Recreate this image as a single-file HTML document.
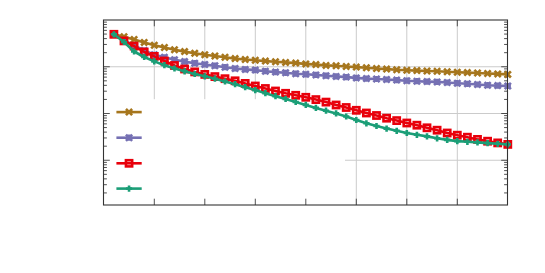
<!DOCTYPE html>
<html><head><meta charset="utf-8"><title>chart</title>
<style>html,body{margin:0;padding:0;background:#fff;font-family:"Liberation Sans",sans-serif;}svg{display:block}</style>
</head><body>
<svg width="545" height="273" viewBox="0 0 545 273">
<rect width="545" height="273" fill="#fff"/>
<line x1="154.3" y1="20.0" x2="154.3" y2="205.0" stroke="#cbcbcb" stroke-width="1"/>
<line x1="204.8" y1="20.0" x2="204.8" y2="205.0" stroke="#cbcbcb" stroke-width="1"/>
<line x1="255.3" y1="20.0" x2="255.3" y2="205.0" stroke="#cbcbcb" stroke-width="1"/>
<line x1="305.8" y1="20.0" x2="305.8" y2="205.0" stroke="#cbcbcb" stroke-width="1"/>
<line x1="356.3" y1="20.0" x2="356.3" y2="205.0" stroke="#cbcbcb" stroke-width="1"/>
<line x1="406.8" y1="20.0" x2="406.8" y2="205.0" stroke="#cbcbcb" stroke-width="1"/>
<line x1="457.3" y1="20.0" x2="457.3" y2="205.0" stroke="#cbcbcb" stroke-width="1"/>
<line x1="103.5" y1="66.75" x2="507.5" y2="66.75" stroke="#cbcbcb" stroke-width="1"/>
<line x1="103.5" y1="113.5" x2="507.5" y2="113.5" stroke="#cbcbcb" stroke-width="1"/>
<line x1="103.5" y1="160.25" x2="507.5" y2="160.25" stroke="#cbcbcb" stroke-width="1"/>
<rect x="104.0" y="99.2" width="241.0" height="105.3" fill="#fff"/>
<path d="M103.5,52.68h3.4M507.5,52.68h-3.4M103.5,44.44h3.4M507.5,44.44h-3.4M103.5,38.60h3.4M507.5,38.60h-3.4M103.5,34.07h3.4M507.5,34.07h-3.4M103.5,30.37h3.4M507.5,30.37h-3.4M103.5,27.24h3.4M507.5,27.24h-3.4M103.5,24.53h3.4M507.5,24.53h-3.4M103.5,22.14h3.4M507.5,22.14h-3.4M103.5,66.75h6.3M507.5,66.75h-6.3M103.5,99.43h3.4M507.5,99.43h-3.4M103.5,91.19h3.4M507.5,91.19h-3.4M103.5,85.35h3.4M507.5,85.35h-3.4M103.5,80.82h3.4M507.5,80.82h-3.4M103.5,77.12h3.4M507.5,77.12h-3.4M103.5,73.99h3.4M507.5,73.99h-3.4M103.5,71.28h3.4M507.5,71.28h-3.4M103.5,68.89h3.4M507.5,68.89h-3.4M103.5,113.5h6.3M507.5,113.5h-6.3M103.5,146.18h3.4M507.5,146.18h-3.4M103.5,137.94h3.4M507.5,137.94h-3.4M103.5,132.10h3.4M507.5,132.10h-3.4M103.5,127.57h3.4M507.5,127.57h-3.4M103.5,123.87h3.4M507.5,123.87h-3.4M103.5,120.74h3.4M507.5,120.74h-3.4M103.5,118.03h3.4M507.5,118.03h-3.4M103.5,115.64h3.4M507.5,115.64h-3.4M103.5,160.25h6.3M507.5,160.25h-6.3M103.5,192.93h3.4M507.5,192.93h-3.4M103.5,184.69h3.4M507.5,184.69h-3.4M103.5,178.85h3.4M507.5,178.85h-3.4M103.5,174.32h3.4M507.5,174.32h-3.4M103.5,170.62h3.4M507.5,170.62h-3.4M103.5,167.49h3.4M507.5,167.49h-3.4M103.5,164.78h3.4M507.5,164.78h-3.4M103.5,162.39h3.4M507.5,162.39h-3.4M154.3,20.0v6.3M154.3,205.0v-6.3M204.8,20.0v6.3M204.8,205.0v-6.3M255.3,20.0v6.3M255.3,205.0v-6.3M305.8,20.0v6.3M305.8,205.0v-6.3M356.3,20.0v6.3M356.3,205.0v-6.3M406.8,20.0v6.3M406.8,205.0v-6.3M457.3,20.0v6.3M457.3,205.0v-6.3" stroke="#333333" stroke-width="0.85" fill="none"/>
<line x1="116.4" y1="112.1" x2="141.7" y2="112.1" stroke="#A6761D" stroke-width="2.6"/>
<path d="M125.95,109.00L132.15,115.20M125.95,115.20L132.15,109.00" stroke="#A6761D" stroke-width="2.6" fill="none"/>
<polyline points="113.90,34.30 124.00,36.70 134.10,39.50 144.20,42.40 154.30,45.20 164.40,47.50 174.50,49.70 184.60,51.60 194.70,53.20 204.80,54.70 214.90,56.00 225.00,57.30 235.10,58.60 245.20,59.50 255.30,60.20 265.40,61.10 275.50,61.80 285.60,62.40 295.70,63.10 305.80,63.90 315.90,64.60 326.00,65.40 336.10,65.80 346.20,66.50 356.30,67.10 366.40,67.80 376.50,68.50 386.60,69.10 396.70,69.80 406.80,70.20 416.90,70.60 427.00,71.00 437.10,71.30 447.20,71.70 457.30,72.20 467.40,72.60 477.50,73.00 487.60,73.50 497.70,73.90 507.80,74.40" fill="none" stroke="#A6761D" stroke-width="2.6" stroke-linejoin="round"/>
<path d="M110.80,31.20L117.00,37.40M110.80,37.40L117.00,31.20" stroke="#A6761D" stroke-width="2.6" fill="none"/>
<path d="M120.90,33.60L127.10,39.80M120.90,39.80L127.10,33.60" stroke="#A6761D" stroke-width="2.6" fill="none"/>
<path d="M131.00,36.40L137.20,42.60M131.00,42.60L137.20,36.40" stroke="#A6761D" stroke-width="2.6" fill="none"/>
<path d="M141.10,39.30L147.30,45.50M141.10,45.50L147.30,39.30" stroke="#A6761D" stroke-width="2.6" fill="none"/>
<path d="M151.20,42.10L157.40,48.30M151.20,48.30L157.40,42.10" stroke="#A6761D" stroke-width="2.6" fill="none"/>
<path d="M161.30,44.40L167.50,50.60M161.30,50.60L167.50,44.40" stroke="#A6761D" stroke-width="2.6" fill="none"/>
<path d="M171.40,46.60L177.60,52.80M171.40,52.80L177.60,46.60" stroke="#A6761D" stroke-width="2.6" fill="none"/>
<path d="M181.50,48.50L187.70,54.70M181.50,54.70L187.70,48.50" stroke="#A6761D" stroke-width="2.6" fill="none"/>
<path d="M191.60,50.10L197.80,56.30M191.60,56.30L197.80,50.10" stroke="#A6761D" stroke-width="2.6" fill="none"/>
<path d="M201.70,51.60L207.90,57.80M201.70,57.80L207.90,51.60" stroke="#A6761D" stroke-width="2.6" fill="none"/>
<path d="M211.80,52.90L218.00,59.10M211.80,59.10L218.00,52.90" stroke="#A6761D" stroke-width="2.6" fill="none"/>
<path d="M221.90,54.20L228.10,60.40M221.90,60.40L228.10,54.20" stroke="#A6761D" stroke-width="2.6" fill="none"/>
<path d="M232.00,55.50L238.20,61.70M232.00,61.70L238.20,55.50" stroke="#A6761D" stroke-width="2.6" fill="none"/>
<path d="M242.10,56.40L248.30,62.60M242.10,62.60L248.30,56.40" stroke="#A6761D" stroke-width="2.6" fill="none"/>
<path d="M252.20,57.10L258.40,63.30M252.20,63.30L258.40,57.10" stroke="#A6761D" stroke-width="2.6" fill="none"/>
<path d="M262.30,58.00L268.50,64.20M262.30,64.20L268.50,58.00" stroke="#A6761D" stroke-width="2.6" fill="none"/>
<path d="M272.40,58.70L278.60,64.90M272.40,64.90L278.60,58.70" stroke="#A6761D" stroke-width="2.6" fill="none"/>
<path d="M282.50,59.30L288.70,65.50M282.50,65.50L288.70,59.30" stroke="#A6761D" stroke-width="2.6" fill="none"/>
<path d="M292.60,60.00L298.80,66.20M292.60,66.20L298.80,60.00" stroke="#A6761D" stroke-width="2.6" fill="none"/>
<path d="M302.70,60.80L308.90,67.00M302.70,67.00L308.90,60.80" stroke="#A6761D" stroke-width="2.6" fill="none"/>
<path d="M312.80,61.50L319.00,67.70M312.80,67.70L319.00,61.50" stroke="#A6761D" stroke-width="2.6" fill="none"/>
<path d="M322.90,62.30L329.10,68.50M322.90,68.50L329.10,62.30" stroke="#A6761D" stroke-width="2.6" fill="none"/>
<path d="M333.00,62.70L339.20,68.90M333.00,68.90L339.20,62.70" stroke="#A6761D" stroke-width="2.6" fill="none"/>
<path d="M343.10,63.40L349.30,69.60M343.10,69.60L349.30,63.40" stroke="#A6761D" stroke-width="2.6" fill="none"/>
<path d="M353.20,64.00L359.40,70.20M353.20,70.20L359.40,64.00" stroke="#A6761D" stroke-width="2.6" fill="none"/>
<path d="M363.30,64.70L369.50,70.90M363.30,70.90L369.50,64.70" stroke="#A6761D" stroke-width="2.6" fill="none"/>
<path d="M373.40,65.40L379.60,71.60M373.40,71.60L379.60,65.40" stroke="#A6761D" stroke-width="2.6" fill="none"/>
<path d="M383.50,66.00L389.70,72.20M383.50,72.20L389.70,66.00" stroke="#A6761D" stroke-width="2.6" fill="none"/>
<path d="M393.60,66.70L399.80,72.90M393.60,72.90L399.80,66.70" stroke="#A6761D" stroke-width="2.6" fill="none"/>
<path d="M403.70,67.10L409.90,73.30M403.70,73.30L409.90,67.10" stroke="#A6761D" stroke-width="2.6" fill="none"/>
<path d="M413.80,67.50L420.00,73.70M413.80,73.70L420.00,67.50" stroke="#A6761D" stroke-width="2.6" fill="none"/>
<path d="M423.90,67.90L430.10,74.10M423.90,74.10L430.10,67.90" stroke="#A6761D" stroke-width="2.6" fill="none"/>
<path d="M434.00,68.20L440.20,74.40M434.00,74.40L440.20,68.20" stroke="#A6761D" stroke-width="2.6" fill="none"/>
<path d="M444.10,68.60L450.30,74.80M444.10,74.80L450.30,68.60" stroke="#A6761D" stroke-width="2.6" fill="none"/>
<path d="M454.20,69.10L460.40,75.30M454.20,75.30L460.40,69.10" stroke="#A6761D" stroke-width="2.6" fill="none"/>
<path d="M464.30,69.50L470.50,75.70M464.30,75.70L470.50,69.50" stroke="#A6761D" stroke-width="2.6" fill="none"/>
<path d="M474.40,69.90L480.60,76.10M474.40,76.10L480.60,69.90" stroke="#A6761D" stroke-width="2.6" fill="none"/>
<path d="M484.50,70.40L490.70,76.60M484.50,76.60L490.70,70.40" stroke="#A6761D" stroke-width="2.6" fill="none"/>
<path d="M494.60,70.80L500.80,77.00M494.60,77.00L500.80,70.80" stroke="#A6761D" stroke-width="2.6" fill="none"/>
<path d="M504.70,71.30L510.90,77.50M504.70,77.50L510.90,71.30" stroke="#A6761D" stroke-width="2.6" fill="none"/>
<line x1="116.4" y1="137.7" x2="141.7" y2="137.7" stroke="#7570B3" stroke-width="2.6"/>
<path d="M125.95,134.60L132.15,140.80M125.95,140.80L132.15,134.60" stroke="#7570B3" stroke-width="2.6" fill="none"/><path d="M125.95,137.70L132.15,137.70M129.05,134.60L129.05,140.80" stroke="#7570B3" stroke-width="2.6" fill="none"/>
<polyline points="113.90,34.30 124.00,40.50 134.10,45.50 144.20,50.50 154.30,54.80 164.40,57.30 174.50,59.80 184.60,61.60 194.70,63.20 204.80,64.50 214.90,65.70 225.00,67.20 235.10,68.50 245.20,69.40 255.30,70.10 265.40,71.20 275.50,72.10 285.60,72.80 295.70,73.70 305.80,74.30 315.90,74.90 326.00,75.70 336.10,76.40 346.20,77.10 356.30,77.90 366.40,78.60 376.50,79.00 386.60,79.50 396.70,80.10 406.80,80.70 416.90,81.20 427.00,81.60 437.10,81.90 447.20,82.50 457.30,83.20 467.40,83.80 477.50,84.50 487.60,85.20 497.70,85.60 507.80,86.00" fill="none" stroke="#7570B3" stroke-width="2.6" stroke-linejoin="round"/>
<path d="M110.80,31.20L117.00,37.40M110.80,37.40L117.00,31.20" stroke="#7570B3" stroke-width="2.6" fill="none"/><path d="M110.80,34.30L117.00,34.30M113.90,31.20L113.90,37.40" stroke="#7570B3" stroke-width="2.6" fill="none"/>
<path d="M120.90,37.40L127.10,43.60M120.90,43.60L127.10,37.40" stroke="#7570B3" stroke-width="2.6" fill="none"/><path d="M120.90,40.50L127.10,40.50M124.00,37.40L124.00,43.60" stroke="#7570B3" stroke-width="2.6" fill="none"/>
<path d="M131.00,42.40L137.20,48.60M131.00,48.60L137.20,42.40" stroke="#7570B3" stroke-width="2.6" fill="none"/><path d="M131.00,45.50L137.20,45.50M134.10,42.40L134.10,48.60" stroke="#7570B3" stroke-width="2.6" fill="none"/>
<path d="M141.10,47.40L147.30,53.60M141.10,53.60L147.30,47.40" stroke="#7570B3" stroke-width="2.6" fill="none"/><path d="M141.10,50.50L147.30,50.50M144.20,47.40L144.20,53.60" stroke="#7570B3" stroke-width="2.6" fill="none"/>
<path d="M151.20,51.70L157.40,57.90M151.20,57.90L157.40,51.70" stroke="#7570B3" stroke-width="2.6" fill="none"/><path d="M151.20,54.80L157.40,54.80M154.30,51.70L154.30,57.90" stroke="#7570B3" stroke-width="2.6" fill="none"/>
<path d="M161.30,54.20L167.50,60.40M161.30,60.40L167.50,54.20" stroke="#7570B3" stroke-width="2.6" fill="none"/><path d="M161.30,57.30L167.50,57.30M164.40,54.20L164.40,60.40" stroke="#7570B3" stroke-width="2.6" fill="none"/>
<path d="M171.40,56.70L177.60,62.90M171.40,62.90L177.60,56.70" stroke="#7570B3" stroke-width="2.6" fill="none"/><path d="M171.40,59.80L177.60,59.80M174.50,56.70L174.50,62.90" stroke="#7570B3" stroke-width="2.6" fill="none"/>
<path d="M181.50,58.50L187.70,64.70M181.50,64.70L187.70,58.50" stroke="#7570B3" stroke-width="2.6" fill="none"/><path d="M181.50,61.60L187.70,61.60M184.60,58.50L184.60,64.70" stroke="#7570B3" stroke-width="2.6" fill="none"/>
<path d="M191.60,60.10L197.80,66.30M191.60,66.30L197.80,60.10" stroke="#7570B3" stroke-width="2.6" fill="none"/><path d="M191.60,63.20L197.80,63.20M194.70,60.10L194.70,66.30" stroke="#7570B3" stroke-width="2.6" fill="none"/>
<path d="M201.70,61.40L207.90,67.60M201.70,67.60L207.90,61.40" stroke="#7570B3" stroke-width="2.6" fill="none"/><path d="M201.70,64.50L207.90,64.50M204.80,61.40L204.80,67.60" stroke="#7570B3" stroke-width="2.6" fill="none"/>
<path d="M211.80,62.60L218.00,68.80M211.80,68.80L218.00,62.60" stroke="#7570B3" stroke-width="2.6" fill="none"/><path d="M211.80,65.70L218.00,65.70M214.90,62.60L214.90,68.80" stroke="#7570B3" stroke-width="2.6" fill="none"/>
<path d="M221.90,64.10L228.10,70.30M221.90,70.30L228.10,64.10" stroke="#7570B3" stroke-width="2.6" fill="none"/><path d="M221.90,67.20L228.10,67.20M225.00,64.10L225.00,70.30" stroke="#7570B3" stroke-width="2.6" fill="none"/>
<path d="M232.00,65.40L238.20,71.60M232.00,71.60L238.20,65.40" stroke="#7570B3" stroke-width="2.6" fill="none"/><path d="M232.00,68.50L238.20,68.50M235.10,65.40L235.10,71.60" stroke="#7570B3" stroke-width="2.6" fill="none"/>
<path d="M242.10,66.30L248.30,72.50M242.10,72.50L248.30,66.30" stroke="#7570B3" stroke-width="2.6" fill="none"/><path d="M242.10,69.40L248.30,69.40M245.20,66.30L245.20,72.50" stroke="#7570B3" stroke-width="2.6" fill="none"/>
<path d="M252.20,67.00L258.40,73.20M252.20,73.20L258.40,67.00" stroke="#7570B3" stroke-width="2.6" fill="none"/><path d="M252.20,70.10L258.40,70.10M255.30,67.00L255.30,73.20" stroke="#7570B3" stroke-width="2.6" fill="none"/>
<path d="M262.30,68.10L268.50,74.30M262.30,74.30L268.50,68.10" stroke="#7570B3" stroke-width="2.6" fill="none"/><path d="M262.30,71.20L268.50,71.20M265.40,68.10L265.40,74.30" stroke="#7570B3" stroke-width="2.6" fill="none"/>
<path d="M272.40,69.00L278.60,75.20M272.40,75.20L278.60,69.00" stroke="#7570B3" stroke-width="2.6" fill="none"/><path d="M272.40,72.10L278.60,72.10M275.50,69.00L275.50,75.20" stroke="#7570B3" stroke-width="2.6" fill="none"/>
<path d="M282.50,69.70L288.70,75.90M282.50,75.90L288.70,69.70" stroke="#7570B3" stroke-width="2.6" fill="none"/><path d="M282.50,72.80L288.70,72.80M285.60,69.70L285.60,75.90" stroke="#7570B3" stroke-width="2.6" fill="none"/>
<path d="M292.60,70.60L298.80,76.80M292.60,76.80L298.80,70.60" stroke="#7570B3" stroke-width="2.6" fill="none"/><path d="M292.60,73.70L298.80,73.70M295.70,70.60L295.70,76.80" stroke="#7570B3" stroke-width="2.6" fill="none"/>
<path d="M302.70,71.20L308.90,77.40M302.70,77.40L308.90,71.20" stroke="#7570B3" stroke-width="2.6" fill="none"/><path d="M302.70,74.30L308.90,74.30M305.80,71.20L305.80,77.40" stroke="#7570B3" stroke-width="2.6" fill="none"/>
<path d="M312.80,71.80L319.00,78.00M312.80,78.00L319.00,71.80" stroke="#7570B3" stroke-width="2.6" fill="none"/><path d="M312.80,74.90L319.00,74.90M315.90,71.80L315.90,78.00" stroke="#7570B3" stroke-width="2.6" fill="none"/>
<path d="M322.90,72.60L329.10,78.80M322.90,78.80L329.10,72.60" stroke="#7570B3" stroke-width="2.6" fill="none"/><path d="M322.90,75.70L329.10,75.70M326.00,72.60L326.00,78.80" stroke="#7570B3" stroke-width="2.6" fill="none"/>
<path d="M333.00,73.30L339.20,79.50M333.00,79.50L339.20,73.30" stroke="#7570B3" stroke-width="2.6" fill="none"/><path d="M333.00,76.40L339.20,76.40M336.10,73.30L336.10,79.50" stroke="#7570B3" stroke-width="2.6" fill="none"/>
<path d="M343.10,74.00L349.30,80.20M343.10,80.20L349.30,74.00" stroke="#7570B3" stroke-width="2.6" fill="none"/><path d="M343.10,77.10L349.30,77.10M346.20,74.00L346.20,80.20" stroke="#7570B3" stroke-width="2.6" fill="none"/>
<path d="M353.20,74.80L359.40,81.00M353.20,81.00L359.40,74.80" stroke="#7570B3" stroke-width="2.6" fill="none"/><path d="M353.20,77.90L359.40,77.90M356.30,74.80L356.30,81.00" stroke="#7570B3" stroke-width="2.6" fill="none"/>
<path d="M363.30,75.50L369.50,81.70M363.30,81.70L369.50,75.50" stroke="#7570B3" stroke-width="2.6" fill="none"/><path d="M363.30,78.60L369.50,78.60M366.40,75.50L366.40,81.70" stroke="#7570B3" stroke-width="2.6" fill="none"/>
<path d="M373.40,75.90L379.60,82.10M373.40,82.10L379.60,75.90" stroke="#7570B3" stroke-width="2.6" fill="none"/><path d="M373.40,79.00L379.60,79.00M376.50,75.90L376.50,82.10" stroke="#7570B3" stroke-width="2.6" fill="none"/>
<path d="M383.50,76.40L389.70,82.60M383.50,82.60L389.70,76.40" stroke="#7570B3" stroke-width="2.6" fill="none"/><path d="M383.50,79.50L389.70,79.50M386.60,76.40L386.60,82.60" stroke="#7570B3" stroke-width="2.6" fill="none"/>
<path d="M393.60,77.00L399.80,83.20M393.60,83.20L399.80,77.00" stroke="#7570B3" stroke-width="2.6" fill="none"/><path d="M393.60,80.10L399.80,80.10M396.70,77.00L396.70,83.20" stroke="#7570B3" stroke-width="2.6" fill="none"/>
<path d="M403.70,77.60L409.90,83.80M403.70,83.80L409.90,77.60" stroke="#7570B3" stroke-width="2.6" fill="none"/><path d="M403.70,80.70L409.90,80.70M406.80,77.60L406.80,83.80" stroke="#7570B3" stroke-width="2.6" fill="none"/>
<path d="M413.80,78.10L420.00,84.30M413.80,84.30L420.00,78.10" stroke="#7570B3" stroke-width="2.6" fill="none"/><path d="M413.80,81.20L420.00,81.20M416.90,78.10L416.90,84.30" stroke="#7570B3" stroke-width="2.6" fill="none"/>
<path d="M423.90,78.50L430.10,84.70M423.90,84.70L430.10,78.50" stroke="#7570B3" stroke-width="2.6" fill="none"/><path d="M423.90,81.60L430.10,81.60M427.00,78.50L427.00,84.70" stroke="#7570B3" stroke-width="2.6" fill="none"/>
<path d="M434.00,78.80L440.20,85.00M434.00,85.00L440.20,78.80" stroke="#7570B3" stroke-width="2.6" fill="none"/><path d="M434.00,81.90L440.20,81.90M437.10,78.80L437.10,85.00" stroke="#7570B3" stroke-width="2.6" fill="none"/>
<path d="M444.10,79.40L450.30,85.60M444.10,85.60L450.30,79.40" stroke="#7570B3" stroke-width="2.6" fill="none"/><path d="M444.10,82.50L450.30,82.50M447.20,79.40L447.20,85.60" stroke="#7570B3" stroke-width="2.6" fill="none"/>
<path d="M454.20,80.10L460.40,86.30M454.20,86.30L460.40,80.10" stroke="#7570B3" stroke-width="2.6" fill="none"/><path d="M454.20,83.20L460.40,83.20M457.30,80.10L457.30,86.30" stroke="#7570B3" stroke-width="2.6" fill="none"/>
<path d="M464.30,80.70L470.50,86.90M464.30,86.90L470.50,80.70" stroke="#7570B3" stroke-width="2.6" fill="none"/><path d="M464.30,83.80L470.50,83.80M467.40,80.70L467.40,86.90" stroke="#7570B3" stroke-width="2.6" fill="none"/>
<path d="M474.40,81.40L480.60,87.60M474.40,87.60L480.60,81.40" stroke="#7570B3" stroke-width="2.6" fill="none"/><path d="M474.40,84.50L480.60,84.50M477.50,81.40L477.50,87.60" stroke="#7570B3" stroke-width="2.6" fill="none"/>
<path d="M484.50,82.10L490.70,88.30M484.50,88.30L490.70,82.10" stroke="#7570B3" stroke-width="2.6" fill="none"/><path d="M484.50,85.20L490.70,85.20M487.60,82.10L487.60,88.30" stroke="#7570B3" stroke-width="2.6" fill="none"/>
<path d="M494.60,82.50L500.80,88.70M494.60,88.70L500.80,82.50" stroke="#7570B3" stroke-width="2.6" fill="none"/><path d="M494.60,85.60L500.80,85.60M497.70,82.50L497.70,88.70" stroke="#7570B3" stroke-width="2.6" fill="none"/>
<path d="M504.70,82.90L510.90,89.10M504.70,89.10L510.90,82.90" stroke="#7570B3" stroke-width="2.6" fill="none"/><path d="M504.70,86.00L510.90,86.00M507.80,82.90L507.80,89.10" stroke="#7570B3" stroke-width="2.6" fill="none"/>
<line x1="116.4" y1="163.3" x2="141.7" y2="163.3" stroke="#E8000B" stroke-width="2.6"/>
<rect x="125.95" y="160.20" width="6.20" height="6.20" stroke="#E8000B" stroke-width="2.6" fill="none"/>
<polyline points="113.90,34.30 124.00,40.90 134.10,46.10 144.20,52.00 154.30,56.40 164.40,61.00 174.50,65.50 184.60,69.00 194.70,71.90 204.80,74.40 214.90,76.60 225.00,78.70 235.10,80.80 245.20,83.40 255.30,86.00 265.40,88.50 275.50,91.00 285.60,93.30 295.70,95.30 305.80,97.30 315.90,99.60 326.00,102.10 336.10,105.00 346.20,107.50 356.30,110.30 366.40,113.00 376.50,115.50 386.60,118.20 396.70,120.60 406.80,123.00 416.90,125.20 427.00,127.80 437.10,130.20 447.20,133.00 457.30,135.20 467.40,137.20 477.50,139.40 487.60,141.20 497.70,142.90 507.80,144.40" fill="none" stroke="#E8000B" stroke-width="2.6" stroke-linejoin="round"/>
<rect x="110.80" y="31.20" width="6.20" height="6.20" stroke="#E8000B" stroke-width="2.6" fill="none"/>
<rect x="120.90" y="37.80" width="6.20" height="6.20" stroke="#E8000B" stroke-width="2.6" fill="none"/>
<rect x="131.00" y="43.00" width="6.20" height="6.20" stroke="#E8000B" stroke-width="2.6" fill="none"/>
<rect x="141.10" y="48.90" width="6.20" height="6.20" stroke="#E8000B" stroke-width="2.6" fill="none"/>
<rect x="151.20" y="53.30" width="6.20" height="6.20" stroke="#E8000B" stroke-width="2.6" fill="none"/>
<rect x="161.30" y="57.90" width="6.20" height="6.20" stroke="#E8000B" stroke-width="2.6" fill="none"/>
<rect x="171.40" y="62.40" width="6.20" height="6.20" stroke="#E8000B" stroke-width="2.6" fill="none"/>
<rect x="181.50" y="65.90" width="6.20" height="6.20" stroke="#E8000B" stroke-width="2.6" fill="none"/>
<rect x="191.60" y="68.80" width="6.20" height="6.20" stroke="#E8000B" stroke-width="2.6" fill="none"/>
<rect x="201.70" y="71.30" width="6.20" height="6.20" stroke="#E8000B" stroke-width="2.6" fill="none"/>
<rect x="211.80" y="73.50" width="6.20" height="6.20" stroke="#E8000B" stroke-width="2.6" fill="none"/>
<rect x="221.90" y="75.60" width="6.20" height="6.20" stroke="#E8000B" stroke-width="2.6" fill="none"/>
<rect x="232.00" y="77.70" width="6.20" height="6.20" stroke="#E8000B" stroke-width="2.6" fill="none"/>
<rect x="242.10" y="80.30" width="6.20" height="6.20" stroke="#E8000B" stroke-width="2.6" fill="none"/>
<rect x="252.20" y="82.90" width="6.20" height="6.20" stroke="#E8000B" stroke-width="2.6" fill="none"/>
<rect x="262.30" y="85.40" width="6.20" height="6.20" stroke="#E8000B" stroke-width="2.6" fill="none"/>
<rect x="272.40" y="87.90" width="6.20" height="6.20" stroke="#E8000B" stroke-width="2.6" fill="none"/>
<rect x="282.50" y="90.20" width="6.20" height="6.20" stroke="#E8000B" stroke-width="2.6" fill="none"/>
<rect x="292.60" y="92.20" width="6.20" height="6.20" stroke="#E8000B" stroke-width="2.6" fill="none"/>
<rect x="302.70" y="94.20" width="6.20" height="6.20" stroke="#E8000B" stroke-width="2.6" fill="none"/>
<rect x="312.80" y="96.50" width="6.20" height="6.20" stroke="#E8000B" stroke-width="2.6" fill="none"/>
<rect x="322.90" y="99.00" width="6.20" height="6.20" stroke="#E8000B" stroke-width="2.6" fill="none"/>
<rect x="333.00" y="101.90" width="6.20" height="6.20" stroke="#E8000B" stroke-width="2.6" fill="none"/>
<rect x="343.10" y="104.40" width="6.20" height="6.20" stroke="#E8000B" stroke-width="2.6" fill="none"/>
<rect x="353.20" y="107.20" width="6.20" height="6.20" stroke="#E8000B" stroke-width="2.6" fill="none"/>
<rect x="363.30" y="109.90" width="6.20" height="6.20" stroke="#E8000B" stroke-width="2.6" fill="none"/>
<rect x="373.40" y="112.40" width="6.20" height="6.20" stroke="#E8000B" stroke-width="2.6" fill="none"/>
<rect x="383.50" y="115.10" width="6.20" height="6.20" stroke="#E8000B" stroke-width="2.6" fill="none"/>
<rect x="393.60" y="117.50" width="6.20" height="6.20" stroke="#E8000B" stroke-width="2.6" fill="none"/>
<rect x="403.70" y="119.90" width="6.20" height="6.20" stroke="#E8000B" stroke-width="2.6" fill="none"/>
<rect x="413.80" y="122.10" width="6.20" height="6.20" stroke="#E8000B" stroke-width="2.6" fill="none"/>
<rect x="423.90" y="124.70" width="6.20" height="6.20" stroke="#E8000B" stroke-width="2.6" fill="none"/>
<rect x="434.00" y="127.10" width="6.20" height="6.20" stroke="#E8000B" stroke-width="2.6" fill="none"/>
<rect x="444.10" y="129.90" width="6.20" height="6.20" stroke="#E8000B" stroke-width="2.6" fill="none"/>
<rect x="454.20" y="132.10" width="6.20" height="6.20" stroke="#E8000B" stroke-width="2.6" fill="none"/>
<rect x="464.30" y="134.10" width="6.20" height="6.20" stroke="#E8000B" stroke-width="2.6" fill="none"/>
<rect x="474.40" y="136.30" width="6.20" height="6.20" stroke="#E8000B" stroke-width="2.6" fill="none"/>
<rect x="484.50" y="138.10" width="6.20" height="6.20" stroke="#E8000B" stroke-width="2.6" fill="none"/>
<rect x="494.60" y="139.80" width="6.20" height="6.20" stroke="#E8000B" stroke-width="2.6" fill="none"/>
<rect x="504.70" y="141.30" width="6.20" height="6.20" stroke="#E8000B" stroke-width="2.6" fill="none"/>
<line x1="116.4" y1="188.6" x2="141.7" y2="188.6" stroke="#1B9E77" stroke-width="2.6"/>
<path d="M125.95,188.60L132.15,188.60M129.05,185.50L129.05,191.70" stroke="#1B9E77" stroke-width="2.6" fill="none"/>
<polyline points="113.90,34.30 124.00,42.00 134.10,51.50 144.20,57.00 154.30,61.40 164.40,65.20 174.50,68.50 184.60,71.30 194.70,74.00 204.80,76.30 214.90,78.70 225.00,81.50 235.10,84.20 245.20,87.20 255.30,90.10 265.40,93.20 275.50,96.20 285.60,99.00 295.70,102.00 305.80,104.90 315.90,107.90 326.00,110.70 336.10,113.40 346.20,116.50 356.30,120.00 366.40,123.30 376.50,126.00 386.60,128.60 396.70,130.80 406.80,133.00 416.90,134.80 427.00,136.40 437.10,138.30 447.20,139.90 457.30,141.10 467.40,141.80 477.50,142.40 487.60,143.10 497.70,143.80 507.80,144.40" fill="none" stroke="#1B9E77" stroke-width="2.6" stroke-linejoin="round"/>
<path d="M110.80,34.30L117.00,34.30M113.90,31.20L113.90,37.40" stroke="#1B9E77" stroke-width="2.6" fill="none"/>
<path d="M120.90,42.00L127.10,42.00M124.00,38.90L124.00,45.10" stroke="#1B9E77" stroke-width="2.6" fill="none"/>
<path d="M131.00,51.50L137.20,51.50M134.10,48.40L134.10,54.60" stroke="#1B9E77" stroke-width="2.6" fill="none"/>
<path d="M141.10,57.00L147.30,57.00M144.20,53.90L144.20,60.10" stroke="#1B9E77" stroke-width="2.6" fill="none"/>
<path d="M151.20,61.40L157.40,61.40M154.30,58.30L154.30,64.50" stroke="#1B9E77" stroke-width="2.6" fill="none"/>
<path d="M161.30,65.20L167.50,65.20M164.40,62.10L164.40,68.30" stroke="#1B9E77" stroke-width="2.6" fill="none"/>
<path d="M171.40,68.50L177.60,68.50M174.50,65.40L174.50,71.60" stroke="#1B9E77" stroke-width="2.6" fill="none"/>
<path d="M181.50,71.30L187.70,71.30M184.60,68.20L184.60,74.40" stroke="#1B9E77" stroke-width="2.6" fill="none"/>
<path d="M191.60,74.00L197.80,74.00M194.70,70.90L194.70,77.10" stroke="#1B9E77" stroke-width="2.6" fill="none"/>
<path d="M201.70,76.30L207.90,76.30M204.80,73.20L204.80,79.40" stroke="#1B9E77" stroke-width="2.6" fill="none"/>
<path d="M211.80,78.70L218.00,78.70M214.90,75.60L214.90,81.80" stroke="#1B9E77" stroke-width="2.6" fill="none"/>
<path d="M221.90,81.50L228.10,81.50M225.00,78.40L225.00,84.60" stroke="#1B9E77" stroke-width="2.6" fill="none"/>
<path d="M232.00,84.20L238.20,84.20M235.10,81.10L235.10,87.30" stroke="#1B9E77" stroke-width="2.6" fill="none"/>
<path d="M242.10,87.20L248.30,87.20M245.20,84.10L245.20,90.30" stroke="#1B9E77" stroke-width="2.6" fill="none"/>
<path d="M252.20,90.10L258.40,90.10M255.30,87.00L255.30,93.20" stroke="#1B9E77" stroke-width="2.6" fill="none"/>
<path d="M262.30,93.20L268.50,93.20M265.40,90.10L265.40,96.30" stroke="#1B9E77" stroke-width="2.6" fill="none"/>
<path d="M272.40,96.20L278.60,96.20M275.50,93.10L275.50,99.30" stroke="#1B9E77" stroke-width="2.6" fill="none"/>
<path d="M282.50,99.00L288.70,99.00M285.60,95.90L285.60,102.10" stroke="#1B9E77" stroke-width="2.6" fill="none"/>
<path d="M292.60,102.00L298.80,102.00M295.70,98.90L295.70,105.10" stroke="#1B9E77" stroke-width="2.6" fill="none"/>
<path d="M302.70,104.90L308.90,104.90M305.80,101.80L305.80,108.00" stroke="#1B9E77" stroke-width="2.6" fill="none"/>
<path d="M312.80,107.90L319.00,107.90M315.90,104.80L315.90,111.00" stroke="#1B9E77" stroke-width="2.6" fill="none"/>
<path d="M322.90,110.70L329.10,110.70M326.00,107.60L326.00,113.80" stroke="#1B9E77" stroke-width="2.6" fill="none"/>
<path d="M333.00,113.40L339.20,113.40M336.10,110.30L336.10,116.50" stroke="#1B9E77" stroke-width="2.6" fill="none"/>
<path d="M343.10,116.50L349.30,116.50M346.20,113.40L346.20,119.60" stroke="#1B9E77" stroke-width="2.6" fill="none"/>
<path d="M353.20,120.00L359.40,120.00M356.30,116.90L356.30,123.10" stroke="#1B9E77" stroke-width="2.6" fill="none"/>
<path d="M363.30,123.30L369.50,123.30M366.40,120.20L366.40,126.40" stroke="#1B9E77" stroke-width="2.6" fill="none"/>
<path d="M373.40,126.00L379.60,126.00M376.50,122.90L376.50,129.10" stroke="#1B9E77" stroke-width="2.6" fill="none"/>
<path d="M383.50,128.60L389.70,128.60M386.60,125.50L386.60,131.70" stroke="#1B9E77" stroke-width="2.6" fill="none"/>
<path d="M393.60,130.80L399.80,130.80M396.70,127.70L396.70,133.90" stroke="#1B9E77" stroke-width="2.6" fill="none"/>
<path d="M403.70,133.00L409.90,133.00M406.80,129.90L406.80,136.10" stroke="#1B9E77" stroke-width="2.6" fill="none"/>
<path d="M413.80,134.80L420.00,134.80M416.90,131.70L416.90,137.90" stroke="#1B9E77" stroke-width="2.6" fill="none"/>
<path d="M423.90,136.40L430.10,136.40M427.00,133.30L427.00,139.50" stroke="#1B9E77" stroke-width="2.6" fill="none"/>
<path d="M434.00,138.30L440.20,138.30M437.10,135.20L437.10,141.40" stroke="#1B9E77" stroke-width="2.6" fill="none"/>
<path d="M444.10,139.90L450.30,139.90M447.20,136.80L447.20,143.00" stroke="#1B9E77" stroke-width="2.6" fill="none"/>
<path d="M454.20,141.10L460.40,141.10M457.30,138.00L457.30,144.20" stroke="#1B9E77" stroke-width="2.6" fill="none"/>
<path d="M464.30,141.80L470.50,141.80M467.40,138.70L467.40,144.90" stroke="#1B9E77" stroke-width="2.6" fill="none"/>
<path d="M474.40,142.40L480.60,142.40M477.50,139.30L477.50,145.50" stroke="#1B9E77" stroke-width="2.6" fill="none"/>
<path d="M484.50,143.10L490.70,143.10M487.60,140.00L487.60,146.20" stroke="#1B9E77" stroke-width="2.6" fill="none"/>
<path d="M494.60,143.80L500.80,143.80M497.70,140.70L497.70,146.90" stroke="#1B9E77" stroke-width="2.6" fill="none"/>
<path d="M504.70,144.40L510.90,144.40M507.80,141.30L507.80,147.50" stroke="#1B9E77" stroke-width="2.6" fill="none"/>
<rect x="103.5" y="20.0" width="404.0" height="185.0" fill="none" stroke="#333333" stroke-width="1.1"/>
</svg>
</body></html>
